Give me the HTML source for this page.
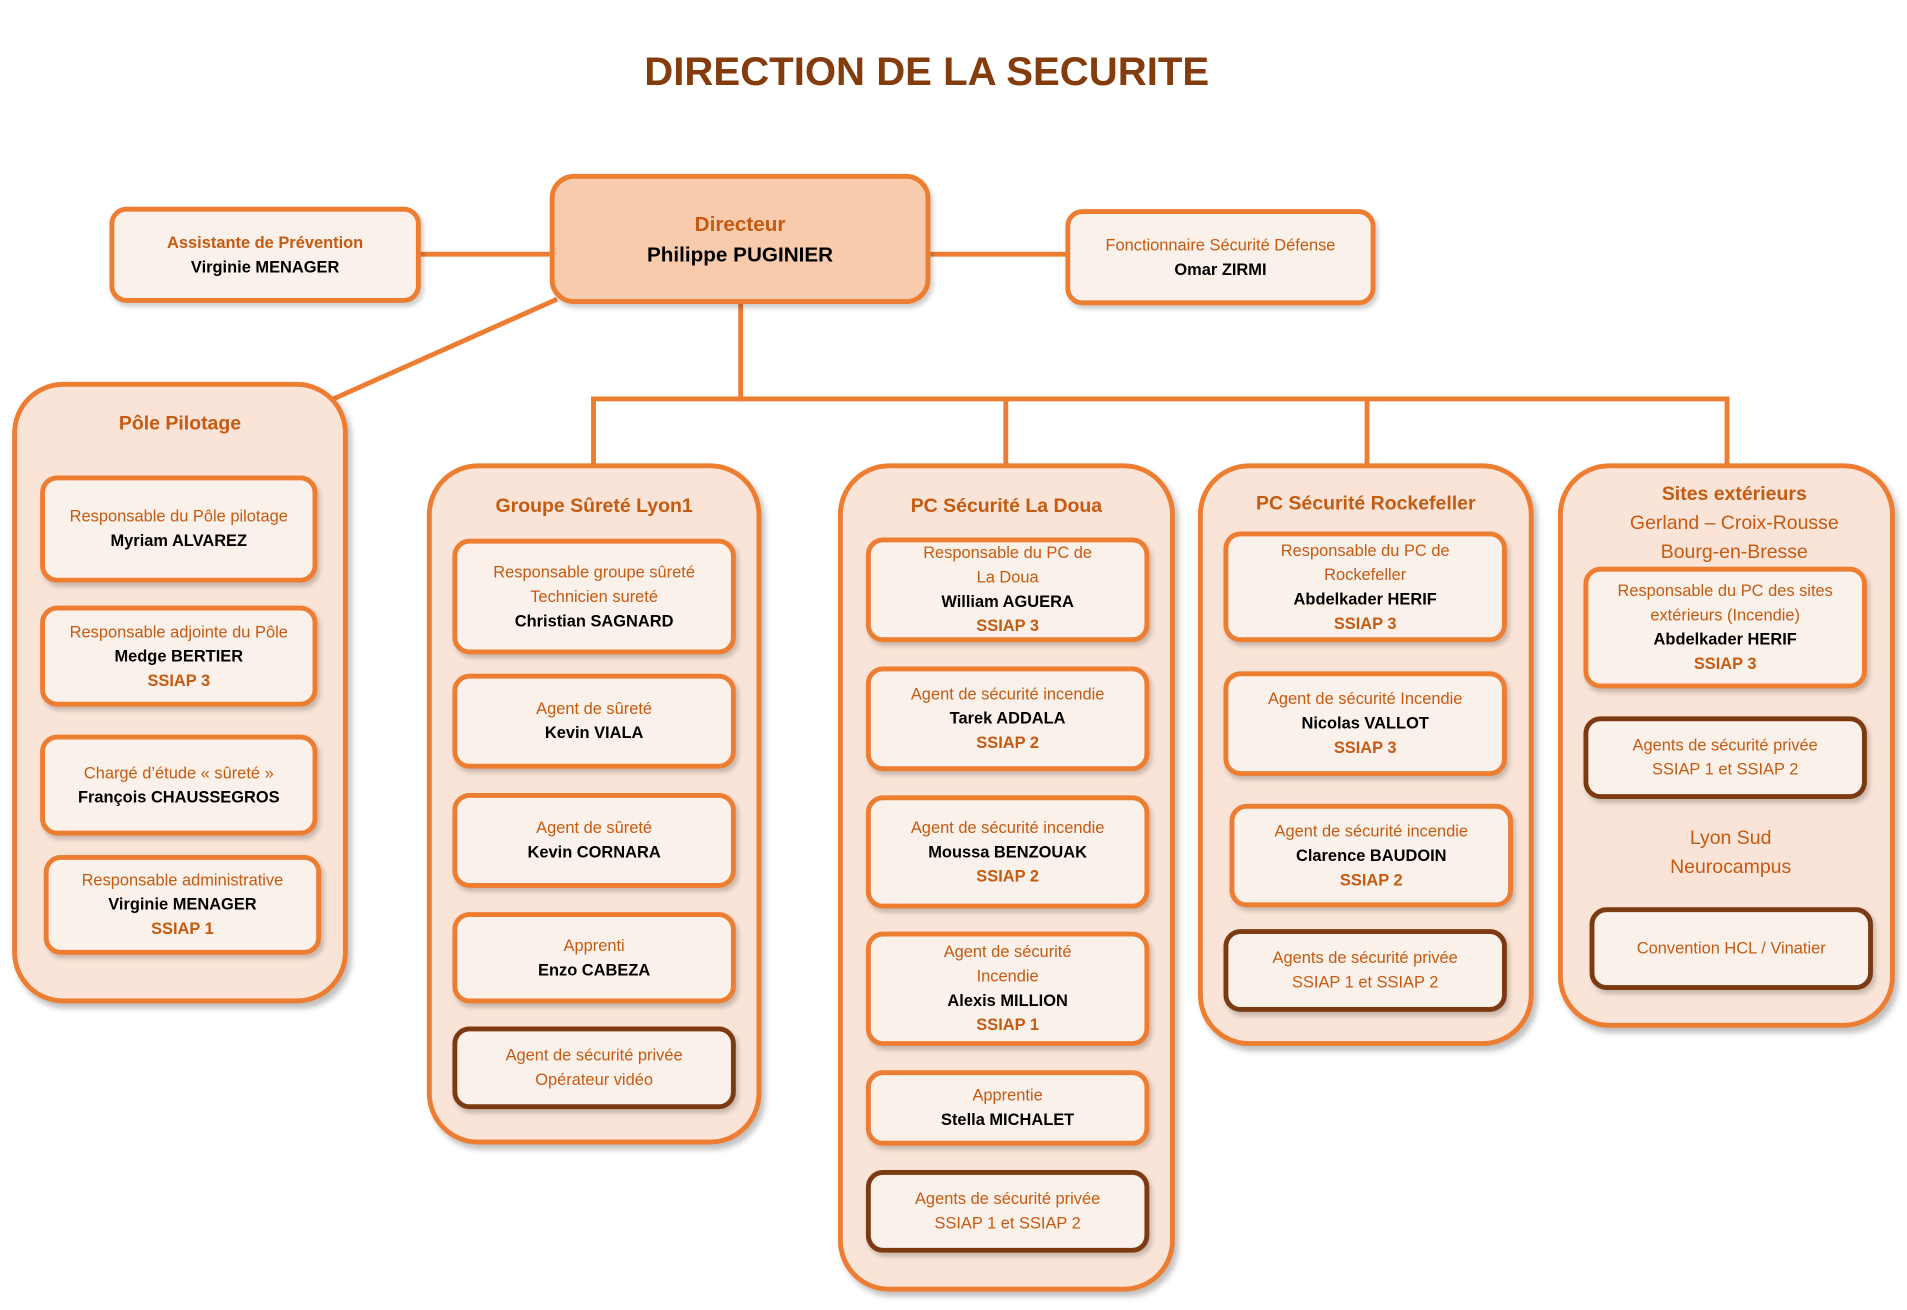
<!DOCTYPE html>
<html><head><meta charset="utf-8"><style>
html,body{margin:0;padding:0;background:#fff;width:1907px;height:1310px;overflow:hidden}
#s{position:absolute;left:0;top:0;width:1568px;height:1077px;transform:scale(1.2162);transform-origin:0 0;font-family:"Liberation Sans",sans-serif}
.a{position:absolute;box-sizing:border-box}
.c{border:4px solid #ED7D31;background:#FAE4D7;border-radius:42px;box-shadow:3px 4px 5px rgba(0,0,0,.25)}
.b{border:4px solid #ED7D31;background:#FBF1EB;border-radius:14px;display:flex;flex-direction:column;justify-content:center;align-items:center;text-align:center;font-size:13.5px;line-height:20px;color:#C55A11;box-shadow:2px 3px 4px rgba(0,0,0,.2)}
.d{border-color:#7B3A12}
.n{color:#000;font-weight:bold}
.k{font-weight:bold}
.t{position:absolute;text-align:center;color:#C55A11;font-weight:bold;font-size:16px}
.l{position:absolute;background:#ED7D31}
</style></head><body><div id="s">
<div class="t" style="left:0;width:1524px;top:40px;font-size:33px;color:#843C0C">DIRECTION DE LA SECURITE</div>

<div class="l" style="left:346px;top:207px;width:106px;height:4px"></div>
<div class="l" style="left:765px;top:207px;width:111px;height:4px"></div>
<div class="l" style="left:607px;top:250px;width:4px;height:80px"></div>
<div class="l" style="left:486px;top:326px;width:936px;height:4px"></div>
<div class="l" style="left:486px;top:326px;width:4px;height:57px"></div>
<div class="l" style="left:825px;top:326px;width:4px;height:57px"></div>
<div class="l" style="left:1122px;top:326px;width:4px;height:57px"></div>
<div class="l" style="left:1418px;top:326px;width:4px;height:57px"></div>
<svg class="a" style="left:0;top:0" width="1568" height="1077"><line x1="458" y1="246" x2="274" y2="328" stroke="#ED7D31" stroke-width="4"/></svg>

<div class="a b" style="left:90px;top:170px;width:256px;height:79px"><span class="k">Assistante de Prévention</span><span class="n">Virginie MENAGER</span></div>
<div class="a b" style="left:452px;top:143px;width:313px;height:107px;background:#F8CBAD;border-radius:20px;font-size:17px;line-height:25px"><span class="k">Directeur</span><span class="n">Philippe PUGINIER</span></div>
<div class="a b" style="left:876px;top:172px;width:255px;height:79px"><span>Fonctionnaire Sécurité Défense</span><span class="n">Omar ZIRMI</span></div>

<div class="a c" style="left:10px;top:314px;width:276px;height:511px"></div>
<div class="t" style="left:10px;width:276px;top:340px">Pôle Pilotage</div>
<div class="a b" style="left:33px;top:391px;width:228px;height:88px"><span>Responsable du Pôle pilotage</span><span class="n">Myriam ALVAREZ</span></div>
<div class="a b" style="left:33px;top:498px;width:228px;height:83px"><span>Responsable adjointe du Pôle</span><span class="n">Medge BERTIER</span><span class="k">SSIAP 3</span></div>
<div class="a b" style="left:33px;top:604px;width:228px;height:83px"><span>Chargé d’étude « sûreté »</span><span class="n">François CHAUSSEGROS</span></div>
<div class="a b" style="left:36px;top:703px;width:228px;height:82px"><span>Responsable administrative</span><span class="n">Virginie MENAGER</span><span class="k">SSIAP 1</span></div>

<div class="a c" style="left:351px;top:381px;width:275px;height:560px"></div>
<div class="t" style="left:351px;width:275px;top:408px">Groupe Sûreté Lyon1</div>
<div class="a b" style="left:372px;top:443px;width:233px;height:95px"><span>Responsable groupe sûreté</span><span>Technicien sureté</span><span class="n">Christian SAGNARD</span></div>
<div class="a b" style="left:372px;top:554px;width:233px;height:78px"><span>Agent de sûreté</span><span class="n">Kevin VIALA</span></div>
<div class="a b" style="left:372px;top:652px;width:233px;height:78px"><span>Agent de sûreté</span><span class="n">Kevin CORNARA</span></div>
<div class="a b" style="left:372px;top:750px;width:233px;height:75px"><span>Apprenti</span><span class="n">Enzo CABEZA</span></div>
<div class="a b d" style="left:372px;top:844px;width:233px;height:68px"><span>Agent de sécurité privée</span><span>Opérateur vidéo</span></div>

<div class="a c" style="left:689px;top:381px;width:277px;height:681px"></div>
<div class="t" style="left:689px;width:277px;top:408px">PC Sécurité La Doua</div>
<div class="a b" style="left:712px;top:442px;width:233px;height:86px"><span>Responsable du PC de</span><span>La Doua</span><span class="n">William AGUERA</span><span class="k">SSIAP 3</span></div>
<div class="a b" style="left:712px;top:548px;width:233px;height:86px"><span>Agent de sécurité incendie</span><span class="n">Tarek ADDALA</span><span class="k">SSIAP 2</span></div>
<div class="a b" style="left:712px;top:654px;width:233px;height:93px"><span>Agent de sécurité incendie</span><span class="n">Moussa BENZOUAK</span><span class="k">SSIAP 2</span></div>
<div class="a b" style="left:712px;top:766px;width:233px;height:94px"><span>Agent de sécurité</span><span>Incendie</span><span class="n">Alexis MILLION</span><span class="k">SSIAP 1</span></div>
<div class="a b" style="left:712px;top:880px;width:233px;height:62px"><span>Apprentie</span><span class="n">Stella MICHALET</span></div>
<div class="a b d" style="left:712px;top:962px;width:233px;height:68px"><span>Agents de sécurité privée</span><span>SSIAP 1 et SSIAP 2</span></div>

<div class="a c" style="left:985px;top:381px;width:276px;height:479px"></div>
<div class="t" style="left:985px;width:276px;top:406px">PC Sécurité Rockefeller</div>
<div class="a b" style="left:1006px;top:437px;width:233px;height:91px"><span>Responsable du PC de</span><span>Rockefeller</span><span class="n">Abdelkader HERIF</span><span class="k">SSIAP 3</span></div>
<div class="a b" style="left:1006px;top:552px;width:233px;height:86px"><span>Agent de sécurité Incendie</span><span class="n">Nicolas VALLOT</span><span class="k">SSIAP 3</span></div>
<div class="a b" style="left:1011px;top:661px;width:233px;height:85px"><span>Agent de sécurité incendie</span><span class="n">Clarence BAUDOIN</span><span class="k">SSIAP 2</span></div>
<div class="a b d" style="left:1006px;top:764px;width:233px;height:68px"><span>Agents de sécurité privée</span><span>SSIAP 1 et SSIAP 2</span></div>

<div class="a c" style="left:1281px;top:381px;width:277px;height:464px"></div>
<div class="t" style="left:1281px;width:290px;top:395px;line-height:24px"><span>Sites extérieurs</span><br><span style="font-weight:normal">Gerland – Croix-Rousse</span><br><span style="font-weight:normal">Bourg-en-Bresse</span></div>
<div class="a b" style="left:1302px;top:466px;width:233px;height:100px"><span>Responsable du PC des sites</span><span>extérieurs (Incendie)</span><span class="n">Abdelkader HERIF</span><span class="k">SSIAP 3</span></div>
<div class="a b d" style="left:1302px;top:589px;width:233px;height:68px"><span>Agents de sécurité privée</span><span>SSIAP 1 et SSIAP 2</span></div>
<div class="t" style="left:1296px;width:254px;top:678px;font-weight:normal;line-height:24px">Lyon Sud<br>Neurocampus</div>
<div class="a b d" style="left:1307px;top:746px;width:233px;height:68px"><span>Convention HCL / Vinatier</span></div>
</div></body></html>
